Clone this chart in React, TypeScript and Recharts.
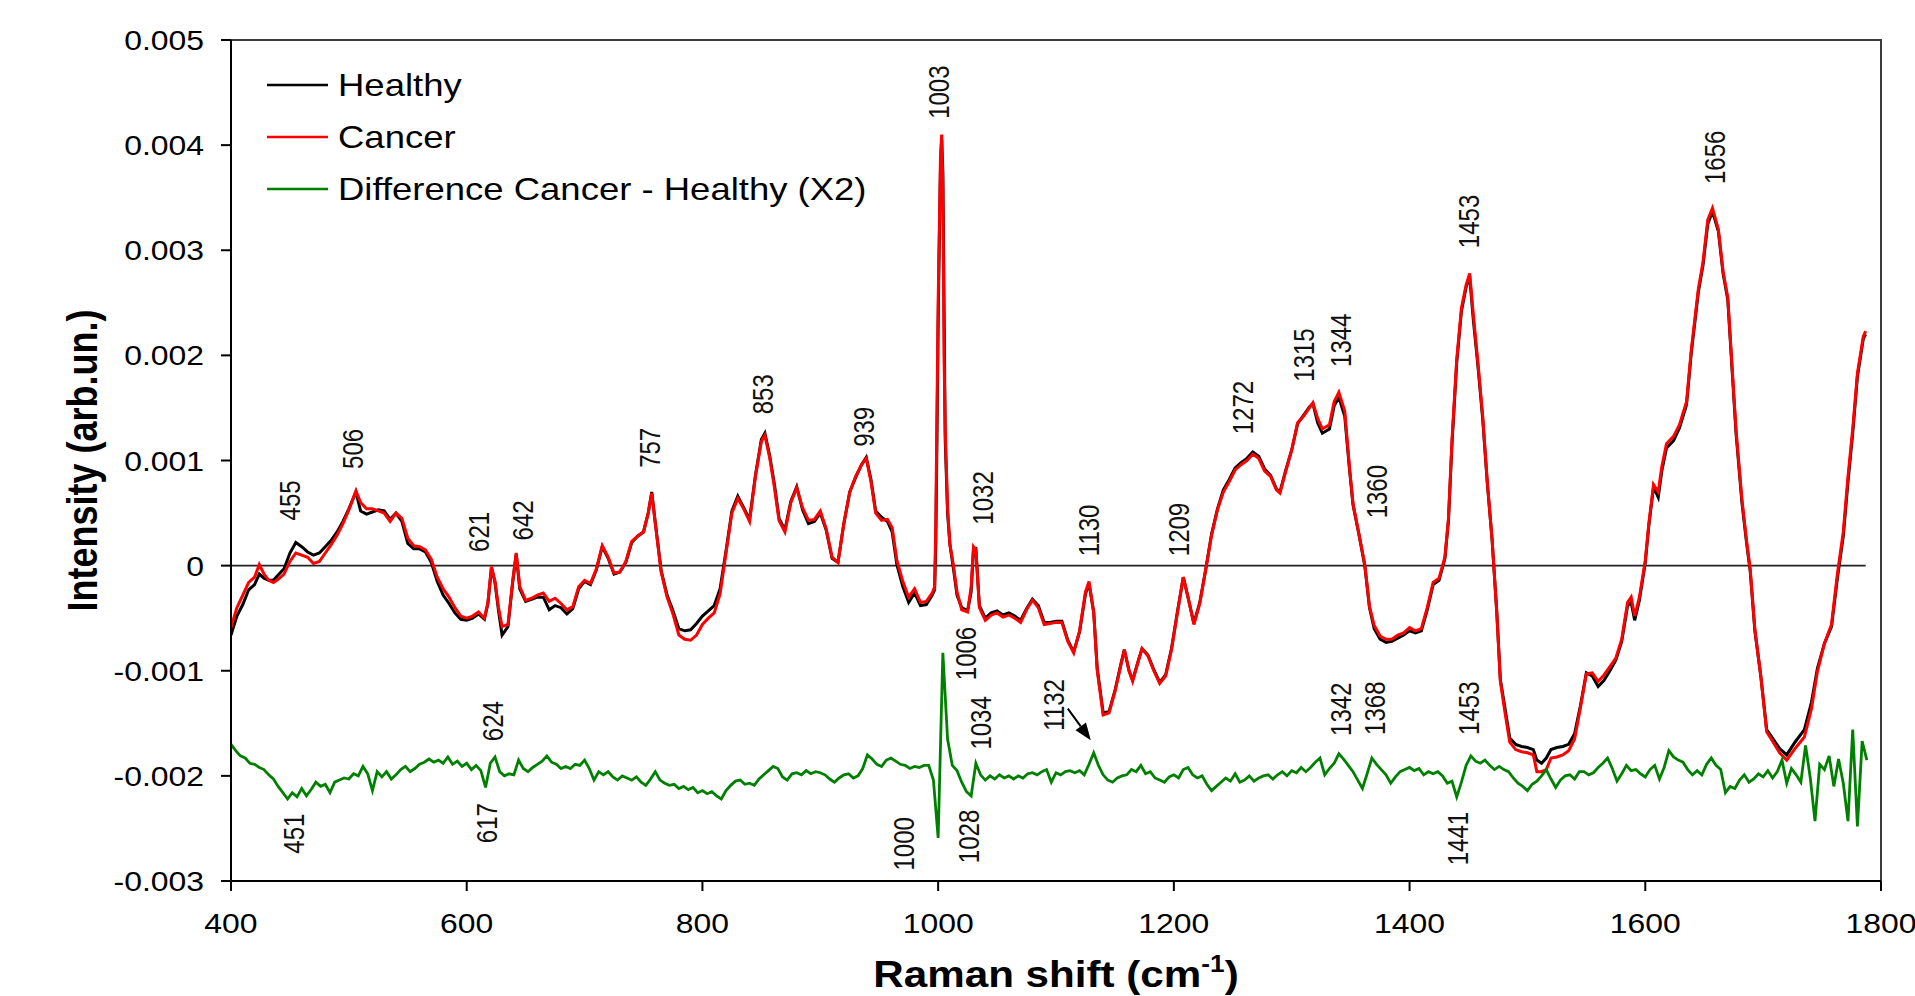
import React from 'react';
import { LineChart, Line, XAxis, YAxis, ReferenceLine, ReferenceDot, ReferenceArea, Legend } from 'recharts';

const FONT = "'Liberation Sans', Arial, Helvetica, sans-serif";
const STRETCH = 1.14;
const LABEL_STRETCH = 1.25;

// Raman shift (cm-1) of the sampled points of the Healthy / Cancer spectra
const cancerShift = [
  400, 405, 410, 415, 420, 424, 428, 432, 436, 440,
  445, 450, 455, 460, 465, 470, 475, 480, 485, 490,
  495, 500, 506, 510, 515, 520, 525, 530, 535, 540,
  545, 550, 555, 560, 565, 570, 575, 580, 585, 590,
  595, 600, 605, 610, 615, 618, 621, 624, 627, 630,
  635, 639, 642, 645, 650, 655, 660, 665, 670, 675,
  680, 685, 690, 695, 700, 705, 710, 715, 720, 725,
  730, 735, 740, 745, 750, 754, 757, 760, 765, 770,
  775, 780, 785, 790, 795, 800, 805, 810, 815, 820,
  825, 830, 835, 840, 845, 850, 853, 857, 861, 865,
  870, 875, 880, 885, 890, 895, 900, 905, 910, 915,
  920, 925, 930, 935, 939, 943, 947, 952, 957, 961,
  965, 970, 975, 980, 985, 990, 995, 997, 998, 999,
  1000, 1001, 1002, 1003, 1004, 1005, 1006, 1008, 1010, 1013,
  1016, 1020, 1025, 1028, 1030, 1032, 1035, 1040, 1045, 1050,
  1055, 1060, 1065, 1070, 1075, 1080, 1085, 1090, 1095, 1100,
  1105, 1110, 1115, 1120, 1125, 1128, 1132, 1135, 1140, 1145,
  1150, 1155, 1158, 1162, 1165, 1170, 1173, 1178, 1183, 1188,
  1193, 1198, 1203, 1208, 1212, 1217, 1222, 1227, 1232, 1237,
  1242, 1247, 1252, 1257, 1262, 1267, 1272, 1277, 1282, 1287,
  1290, 1295, 1300, 1305, 1310, 1315, 1318, 1322, 1326, 1332,
  1336, 1340, 1345, 1349, 1352, 1357, 1362, 1366, 1370, 1375,
  1380, 1385, 1390, 1395, 1400, 1405, 1410, 1415, 1420, 1425,
  1430, 1433, 1436, 1440, 1444, 1448, 1451, 1454, 1458, 1462,
  1466, 1470, 1474, 1477, 1481, 1485, 1490, 1495, 1500, 1505,
  1508, 1512, 1516, 1520, 1525, 1530, 1535, 1540, 1545, 1550,
  1555, 1560, 1565, 1570, 1575, 1580, 1585, 1588, 1591, 1595,
  1600, 1603, 1607, 1611, 1614, 1618, 1624, 1629, 1635, 1639,
  1645, 1649, 1653, 1657, 1662, 1666, 1670, 1674, 1677, 1682,
  1686, 1689, 1693, 1698, 1703, 1708, 1714, 1720, 1727, 1735,
  1741, 1746, 1752, 1758, 1763, 1768, 1772, 1776, 1780, 1785,
  1787,
];

const cancerIntensity = [
  -5.9e-4, -4.0e-4, -2.8e-4, -1.6e-4, -1.1e-4, 0.1e-4, -0.8e-4, -1.4e-4, -1.6e-4, -1.3e-4,
  -0.8e-4, 0.4e-4, 1.2e-4, 1.0e-4, 0.8e-4, 0.2e-4, 0.4e-4, 1.2e-4, 2.0e-4, 2.9e-4,
  4.0e-4, 5.3e-4, 7.1e-4, 6.0e-4, 5.4e-4, 5.4e-4, 5.2e-4, 5.0e-4, 4.2e-4, 5.0e-4,
  4.5e-4, 2.6e-4, 1.9e-4, 1.8e-4, 1.5e-4, 0.6e-4, -1.1e-4, -2.2e-4, -3.0e-4, -4.0e-4,
  -4.8e-4, -5.0e-4, -4.8e-4, -4.4e-4, -5.0e-4, -3.5e-4, -0.1e-4, -1.5e-4, -4.0e-4, -5.8e-4,
  -5.6e-4, -1.5e-4, 1.2e-4, -2.0e-4, -3.3e-4, -3.1e-4, -2.8e-4, -2.6e-4, -3.4e-4, -3.1e-4,
  -3.6e-4, -4.2e-4, -3.9e-4, -2.0e-4, -1.4e-4, -1.7e-4, -0.3e-4, 1.9e-4, 0.8e-4, -0.7e-4,
  -0.6e-4, 0.4e-4, 2.3e-4, 2.8e-4, 3.2e-4, 5.0e-4, 6.9e-4, 4.0e-4, -0.6e-4, -3.0e-4,
  -4.6e-4, -6.6e-4, -7.0e-4, -7.1e-4, -6.6e-4, -5.6e-4, -5.0e-4, -4.5e-4, -2.7e-4, 1.2e-4,
  5.0e-4, 6.4e-4, 5.4e-4, 4.2e-4, 8.5e-4, 11.8e-4, 12.4e-4, 10.3e-4, 7.5e-4, 4.3e-4,
  3.2e-4, 6.0e-4, 7.4e-4, 5.5e-4, 4.3e-4, 4.4e-4, 5.2e-4, 3.5e-4, 0.8e-4, 0.3e-4,
  4.0e-4, 7.0e-4, 8.5e-4, 9.6e-4, 10.2e-4, 8.0e-4, 5.0e-4, 4.3e-4, 4.4e-4, 3.6e-4,
  0.5e-4, -1.5e-4, -3.0e-4, -2.2e-4, -3.5e-4, -3.4e-4, -2.6e-4, -2.0e-4, 4.0e-4, 14.7e-4,
  25.0e-4, 32.0e-4, 39.0e-4, 41.0e-4, 36.0e-4, 20.0e-4, 13.0e-4, 5.5e-4, 2.0e-4, 0.0,
  -2.5e-4, -4.2e-4, -4.4e-4, -2.0e-4, 1.8e-4, 1.5e-4, -4.0e-4, -5.2e-4, -4.7e-4, -4.5e-4,
  -4.9e-4, -4.7e-4, -5.0e-4, -5.4e-4, -4.2e-4, -3.3e-4, -4.0e-4, -5.6e-4, -5.5e-4, -5.4e-4,
  -5.4e-4, -7.2e-4, -8.3e-4, -6.2e-4, -2.5e-4, -1.5e-4, -4.5e-4, -10.0e-4, -14.2e-4, -14.0e-4,
  -12.0e-4, -9.5e-4, -8.0e-4, -10.0e-4, -11.0e-4, -9.0e-4, -7.9e-4, -8.6e-4, -10.0e-4, -11.2e-4,
  -10.5e-4, -8.0e-4, -4.5e-4, -1.1e-4, -3.0e-4, -5.6e-4, -3.6e-4, -0.4e-4, 2.9e-4, 5.3e-4,
  7.0e-4, 8.0e-4, 9.1e-4, 9.6e-4, 10.0e-4, 10.6e-4, 10.2e-4, 9.0e-4, 8.5e-4, 7.2e-4,
  6.9e-4, 9.0e-4, 11.0e-4, 13.6e-4, 14.2e-4, 15.0e-4, 15.5e-4, 14.0e-4, 13.0e-4, 13.4e-4,
  15.6e-4, 16.5e-4, 14.7e-4, 9.4e-4, 5.9e-4, 3.0e-4, 0.1e-4, -3.9e-4, -5.7e-4, -6.7e-4,
  -7.0e-4, -7.0e-4, -6.6e-4, -6.4e-4, -5.9e-4, -6.2e-4, -6.0e-4, -4.0e-4, -1.6e-4, -1.2e-4,
  0.8e-4, 4.5e-4, 12.0e-4, 19.6e-4, 24.5e-4, 26.7e-4, 27.8e-4, 24.0e-4, 19.3e-4, 14.3e-4,
  7.9e-4, 2.5e-4, -4.5e-4, -11.0e-4, -14.0e-4, -16.8e-4, -17.5e-4, -17.7e-4, -17.8e-4, -18.0e-4,
  -19.6e-4, -19.6e-4, -19.4e-4, -18.3e-4, -18.2e-4, -18.0e-4, -17.6e-4, -16.5e-4, -13.5e-4, -10.3e-4,
  -10.2e-4, -11.0e-4, -10.4e-4, -9.6e-4, -8.8e-4, -7.0e-4, -3.5e-4, -3.0e-4, -4.8e-4, -3.0e-4,
  0.5e-4, 4.0e-4, 7.7e-4, 7.0e-4, 9.4e-4, 11.6e-4, 12.3e-4, 13.4e-4, 15.6e-4, 20.5e-4,
  26.3e-4, 28.9e-4, 32.9e-4, 34.0e-4, 32.0e-4, 28.0e-4, 25.5e-4, 18.3e-4, 12.9e-4, 6.3e-4,
  2.3e-4, -0.3e-4, -6.1e-4, -10.5e-4, -15.8e-4, -16.7e-4, -17.8e-4, -18.5e-4, -17.4e-4, -16.3e-4,
  -13.6e-4, -10.1e-4, -7.4e-4, -5.6e-4, -0.8e-4, 3.2e-4, 8.5e-4, 13.0e-4, 18.3e-4, 21.8e-4,
  22.3e-4,
];

const healthyIntensity = [
  -6.6e-4, -4.8e-4, -3.7e-4, -2.3e-4, -1.8e-4, -0.8e-4, -1.2e-4, -1.4e-4, -1.4e-4, -0.9e-4,
  -0.3e-4, 1.2e-4, 2.2e-4, 1.8e-4, 1.3e-4, 1.0e-4, 1.2e-4, 1.8e-4, 2.4e-4, 3.2e-4,
  4.2e-4, 5.4e-4, 7.0e-4, 5.2e-4, 4.9e-4, 5.1e-4, 5.3e-4, 5.2e-4, 4.4e-4, 5.0e-4,
  4.2e-4, 2.1e-4, 1.6e-4, 1.6e-4, 1.3e-4, 0.3e-4, -1.5e-4, -2.8e-4, -3.6e-4, -4.5e-4,
  -5.1e-4, -5.2e-4, -5.0e-4, -4.6e-4, -5.1e-4, -3.6e-4, -0.2e-4, -1.6e-4, -4.3e-4, -6.6e-4,
  -5.8e-4, -1.6e-4, 1.1e-4, -2.2e-4, -3.4e-4, -3.2e-4, -3.0e-4, -3.0e-4, -4.2e-4, -3.8e-4,
  -4.0e-4, -4.6e-4, -4.1e-4, -2.2e-4, -1.5e-4, -1.8e-4, -0.4e-4, 1.8e-4, 0.7e-4, -0.8e-4,
  -0.6e-4, 0.3e-4, 2.2e-4, 2.8e-4, 3.2e-4, 5.0e-4, 7.0e-4, 4.1e-4, -0.5e-4, -2.8e-4,
  -4.3e-4, -6.0e-4, -6.2e-4, -6.1e-4, -5.5e-4, -4.8e-4, -4.3e-4, -3.8e-4, -2.2e-4, 1.4e-4,
  5.2e-4, 6.6e-4, 5.5e-4, 4.4e-4, 8.6e-4, 12.0e-4, 12.6e-4, 10.5e-4, 7.8e-4, 4.5e-4,
  3.4e-4, 6.1e-4, 7.5e-4, 5.3e-4, 4.0e-4, 4.2e-4, 5.0e-4, 3.4e-4, 0.7e-4, 0.3e-4,
  4.0e-4, 7.0e-4, 8.4e-4, 9.6e-4, 10.3e-4, 8.2e-4, 5.2e-4, 4.6e-4, 4.2e-4, 3.2e-4,
  0.1e-4, -2.0e-4, -3.5e-4, -2.6e-4, -3.8e-4, -3.7e-4, -2.8e-4, -2.3e-4, 2.0e-4, 12.0e-4,
  23.0e-4, 31.0e-4, 38.0e-4, 40.5e-4, 37.5e-4, 25.0e-4, 12.0e-4, 5.0e-4, 2.0e-4, -0.3e-4,
  -2.8e-4, -4.0e-4, -4.3e-4, -2.5e-4, 1.5e-4, 1.6e-4, -3.8e-4, -5.0e-4, -4.5e-4, -4.3e-4,
  -4.7e-4, -4.5e-4, -4.8e-4, -5.2e-4, -4.1e-4, -3.2e-4, -3.8e-4, -5.4e-4, -5.4e-4, -5.3e-4,
  -5.3e-4, -7.1e-4, -8.2e-4, -6.3e-4, -2.7e-4, -1.7e-4, -4.4e-4, -9.8e-4, -14.0e-4, -13.9e-4,
  -11.9e-4, -9.4e-4, -8.0e-4, -10.0e-4, -10.9e-4, -9.0e-4, -7.9e-4, -8.5e-4, -9.9e-4, -11.1e-4,
  -10.4e-4, -7.9e-4, -4.4e-4, -1.1e-4, -3.0e-4, -5.5e-4, -3.5e-4, -0.4e-4, 3.0e-4, 5.4e-4,
  7.2e-4, 8.2e-4, 9.3e-4, 9.8e-4, 10.2e-4, 10.8e-4, 10.4e-4, 9.2e-4, 8.6e-4, 7.3e-4,
  7.0e-4, 9.1e-4, 11.0e-4, 13.5e-4, 14.3e-4, 15.1e-4, 15.4e-4, 13.6e-4, 12.6e-4, 13.0e-4,
  15.2e-4, 16.0e-4, 14.2e-4, 9.2e-4, 5.8e-4, 3.0e-4, 0.0, -4.0e-4, -6.0e-4, -7.0e-4,
  -7.3e-4, -7.2e-4, -6.9e-4, -6.6e-4, -6.2e-4, -6.4e-4, -6.2e-4, -4.2e-4, -1.8e-4, -1.4e-4,
  0.7e-4, 4.3e-4, 11.6e-4, 19.3e-4, 24.2e-4, 26.5e-4, 27.5e-4, 23.5e-4, 19.0e-4, 14.0e-4,
  7.8e-4, 2.5e-4, -4.4e-4, -10.8e-4, -13.6e-4, -16.4e-4, -17.0e-4, -17.2e-4, -17.3e-4, -17.5e-4,
  -18.5e-4, -18.8e-4, -18.3e-4, -17.5e-4, -17.3e-4, -17.2e-4, -17.0e-4, -16.0e-4, -13.3e-4, -10.2e-4,
  -10.5e-4, -11.5e-4, -10.9e-4, -10.0e-4, -9.0e-4, -7.2e-4, -3.8e-4, -3.5e-4, -5.2e-4, -3.3e-4,
  0.3e-4, 3.8e-4, 7.5e-4, 6.5e-4, 9.0e-4, 11.2e-4, 11.9e-4, 13.1e-4, 15.3e-4, 20.2e-4,
  26.0e-4, 28.6e-4, 32.5e-4, 33.7e-4, 31.8e-4, 27.8e-4, 25.3e-4, 18.0e-4, 12.6e-4, 6.0e-4,
  2.1e-4, -0.5e-4, -6.2e-4, -10.5e-4, -15.6e-4, -16.4e-4, -17.4e-4, -18.0e-4, -16.8e-4, -15.6e-4,
  -13.0e-4, -9.8e-4, -7.4e-4, -5.8e-4, -1.2e-4, 2.8e-4, 8.0e-4, 12.6e-4, 18.0e-4, 21.6e-4,
  22.0e-4,
];

// Difference Cancer - Healthy (x2, plotted with its offset), sampled every 4 cm-1 from 400 cm-1
const differenceStart = 400;
const differenceStep = 4;
const differenceIntensity = [
  -17.0e-4, -17.6e-4, -18.1e-4, -18.3e-4, -18.8e-4, -18.9e-4, -19.2e-4, -19.4e-4, -19.9e-4, -20.3e-4,
  -21.0e-4, -21.6e-4, -22.2e-4, -21.6e-4, -22.0e-4, -21.2e-4, -21.9e-4, -21.3e-4, -20.6e-4, -21.0e-4,
  -20.8e-4, -21.6e-4, -20.6e-4, -20.4e-4, -20.2e-4, -20.3e-4, -19.8e-4, -20.0e-4, -19.1e-4, -19.8e-4,
  -21.4e-4, -19.6e-4, -20.1e-4, -19.6e-4, -20.3e-4, -19.9e-4, -19.4e-4, -19.1e-4, -19.6e-4, -19.3e-4,
  -18.9e-4, -18.7e-4, -18.4e-4, -18.7e-4, -18.5e-4, -18.8e-4, -18.2e-4, -18.9e-4, -18.6e-4, -19.1e-4,
  -18.8e-4, -19.4e-4, -19.0e-4, -19.5e-4, -21.1e-4, -18.8e-4, -18.2e-4, -19.6e-4, -20.0e-4, -19.8e-4,
  -19.9e-4, -18.5e-4, -19.3e-4, -19.6e-4, -19.2e-4, -18.9e-4, -18.6e-4, -18.1e-4, -18.7e-4, -18.9e-4,
  -19.3e-4, -19.1e-4, -19.3e-4, -18.9e-4, -19.0e-4, -18.5e-4, -19.3e-4, -20.4e-4, -19.6e-4, -19.9e-4,
  -19.6e-4, -20.1e-4, -20.4e-4, -20.0e-4, -20.2e-4, -20.4e-4, -20.1e-4, -20.6e-4, -20.9e-4, -20.3e-4,
  -19.6e-4, -20.4e-4, -20.7e-4, -20.9e-4, -20.8e-4, -21.2e-4, -21.0e-4, -21.3e-4, -21.1e-4, -21.6e-4,
  -21.4e-4, -21.7e-4, -21.5e-4, -21.9e-4, -22.2e-4, -21.4e-4, -20.9e-4, -20.5e-4, -20.4e-4, -20.8e-4,
  -20.7e-4, -20.9e-4, -20.3e-4, -19.9e-4, -19.5e-4, -19.1e-4, -19.3e-4, -20.1e-4, -20.4e-4, -19.8e-4,
  -19.7e-4, -19.9e-4, -19.5e-4, -19.8e-4, -19.6e-4, -19.7e-4, -19.9e-4, -20.3e-4, -20.6e-4, -20.2e-4,
  -19.9e-4, -19.8e-4, -20.2e-4, -20.0e-4, -19.3e-4, -18.0e-4, -18.4e-4, -18.9e-4, -19.1e-4, -18.5e-4,
  -18.3e-4, -18.6e-4, -18.9e-4, -19.0e-4, -19.3e-4, -19.1e-4, -19.2e-4, -19.0e-4, -19.0e-4, -20.4e-4,
  -25.9e-4, -8.3e-4, -16.5e-4, -19.0e-4, -19.5e-4, -20.6e-4, -21.5e-4, -21.9e-4, -18.8e-4, -19.9e-4,
  -20.4e-4, -20.0e-4, -20.3e-4, -19.9e-4, -20.2e-4, -20.0e-4, -20.3e-4, -20.0e-4, -20.2e-4, -19.8e-4,
  -19.7e-4, -19.9e-4, -19.6e-4, -19.4e-4, -20.6e-4, -19.7e-4, -19.9e-4, -19.6e-4, -19.5e-4, -19.7e-4,
  -19.5e-4, -19.9e-4, -18.9e-4, -17.8e-4, -19.0e-4, -19.9e-4, -20.4e-4, -20.6e-4, -20.2e-4, -20.0e-4,
  -19.9e-4, -19.4e-4, -19.6e-4, -19.0e-4, -19.8e-4, -19.6e-4, -20.2e-4, -20.4e-4, -20.6e-4, -20.1e-4,
  -19.9e-4, -20.2e-4, -19.4e-4, -19.2e-4, -19.9e-4, -20.2e-4, -20.0e-4, -20.8e-4, -21.4e-4, -21.0e-4,
  -20.6e-4, -20.2e-4, -20.5e-4, -19.8e-4, -20.6e-4, -20.4e-4, -20.0e-4, -20.5e-4, -20.2e-4, -20.0e-4,
  -19.9e-4, -20.3e-4, -19.9e-4, -19.6e-4, -20.0e-4, -19.5e-4, -19.7e-4, -19.2e-4, -19.6e-4, -19.2e-4,
  -18.7e-4, -18.3e-4, -19.9e-4, -19.3e-4, -18.8e-4, -17.9e-4, -18.4e-4, -19.0e-4, -19.6e-4, -20.4e-4,
  -21.2e-4, -19.8e-4, -18.3e-4, -18.9e-4, -19.4e-4, -19.9e-4, -20.7e-4, -20.1e-4, -19.6e-4, -19.4e-4,
  -19.2e-4, -19.5e-4, -19.3e-4, -19.9e-4, -19.6e-4, -19.8e-4, -19.6e-4, -20.0e-4, -20.7e-4, -20.5e-4,
  -22.0e-4, -20.6e-4, -19.0e-4, -18.1e-4, -18.6e-4, -18.8e-4, -18.5e-4, -19.0e-4, -19.4e-4, -19.1e-4,
  -19.4e-4, -19.6e-4, -20.2e-4, -20.7e-4, -21.0e-4, -21.4e-4, -20.8e-4, -20.5e-4, -20.0e-4, -19.4e-4,
  -20.3e-4, -21.1e-4, -20.4e-4, -20.0e-4, -19.9e-4, -20.3e-4, -19.6e-4, -19.6e-4, -19.9e-4, -19.7e-4,
  -19.2e-4, -18.8e-4, -18.3e-4, -19.3e-4, -20.5e-4, -19.8e-4, -19.0e-4, -19.5e-4, -19.4e-4, -19.8e-4,
  -20.1e-4, -19.4e-4, -19.0e-4, -20.3e-4, -19.2e-4, -17.6e-4, -18.2e-4, -18.5e-4, -18.7e-4, -19.4e-4,
  -19.9e-4, -19.5e-4, -19.9e-4, -18.9e-4, -18.3e-4, -19.0e-4, -19.4e-4, -21.6e-4, -21.0e-4, -21.2e-4,
  -20.4e-4, -19.9e-4, -20.6e-4, -20.3e-4, -19.8e-4, -20.1e-4, -19.5e-4, -20.2e-4, -19.6e-4, -18.5e-4,
  -20.7e-4, -19.3e-4, -19.9e-4, -20.6e-4, -17.1e-4, -20.2e-4, -24.3e-4, -18.9e-4, -19.4e-4, -18.1e-4,
  -21.0e-4, -18.4e-4, -20.7e-4, -24.3e-4, -15.6e-4, -24.8e-4, -16.7e-4, -18.5e-4,
];

const xTicks = [400, 600, 800, 1000, 1200, 1400, 1600, 1800];
const yTicks = [-0.003, -0.002, -0.001, 0, 0.001, 0.002, 0.003, 0.004, 0.005];
const yTickLabels = ['-0.003', '-0.002', '-0.001', '0', '0.001', '0.002', '0.003', '0.004', '0.005'];

const seriesNames = ['Healthy', 'Cancer', 'Difference Cancer - Healthy (X2)'];
const seriesColors = ['#000000', '#ff0000', '#008000'];

// peak annotations: text, Raman shift and intensity where the (vertical) text starts
const peakLabelText = [
  '455', '506', '621', '642', '757', '853', '939', '1003', '1032', '1130', '1209', '1272', '1315', '1344', '1360', '1453', '1656',
  '624', '1006', '1034', '1132', '1342', '1368', '1453',
  '451', '617', '1000', '1028', '1441',
];
const peakLabelShift = [
  450, 503, 610, 647, 755, 851, 937, 1000, 1038, 1128, 1204, 1258, 1310, 1341, 1372, 1450, 1659,
  621.5, 1023, 1036, 1098, 1341, 1370.5, 1450,
  453, 617, 971, 1026, 1441,
];
const peakLabelIntensity = [
  0.00043, 0.00092, 0.00013, 0.00024, 0.00093, 0.00144, 0.00113, 0.00425, 0.00039, 0.00009, 0.00009, 0.00125, 0.00175, 0.00189, 0.00045, 0.00302, 0.00363,
  -0.00167, -0.00109, -0.00175, -0.00157, -0.00162, -0.00161, -0.00161,
  -0.00274, -0.00264, -0.0029, -0.00283, -0.00285,
];

// arrow pointing at the 1132 band of the difference spectrum
const arrowFrom = { shift: 1110, intensity: -0.00136 };
const arrowTo = { shift: 1129.5, intensity: -0.00166 };

const spectrumData = cancerShift.map((shift, i) => ({
  shift,
  healthy: healthyIntensity[i],
  cancer: cancerIntensity[i],
}));
const differenceData = differenceIntensity.map((value, i) => ({
  shift: differenceStart + differenceStep * i,
  difference: value,
}));
const lastShift = cancerShift[cancerShift.length - 1];

function XTick(props: any) {
  const { x, y, payload } = props;
  return (
    <text
      transform={`translate(${x},${y}) scale(${STRETCH},1)`}
      x={0}
      y={0}
      dy={42.5}
      textAnchor="middle"
      fontFamily={FONT}
      fontSize={28}
      fill="#000"
    >
      {payload.value}
    </text>
  );
}

function YTick(props: any) {
  const { x, y, payload } = props;
  const idx = yTicks.indexOf(payload.value);
  const label = idx >= 0 ? yTickLabels[idx] : String(payload.value);
  return (
    <text
      transform={`translate(${x},${y}) scale(${STRETCH},1)`}
      x={0}
      y={0}
      dy={10}
      textAnchor="end"
      fontFamily={FONT}
      fontSize={28}
      fill="#000"
    >
      {label}
    </text>
  );
}

function VerticalLabel({ cx, cy, text }: { cx: number; cy: number; text: string }) {
  return (
    <text
      transform={`translate(${cx},${cy}) rotate(-90) scale(1,${LABEL_STRETCH})`}
      x={0}
      y={0}
      textAnchor="start"
      dominantBaseline="central"
      fontFamily={FONT}
      fontSize={24}
      fill="#111"
    >
      {text}
    </text>
  );
}

function renderArrow(p: any) {
  const { x1, y1, x2, y2 } = p;
  const dx = x2 - x1;
  const dy = y2 - y1;
  const len = Math.hypot(dx, dy) || 1;
  const ux = dx / len;
  const uy = dy / len;
  const head = 17;
  const half = 6.5;
  const bx = x2 - ux * head;
  const by = y2 - uy * head;
  const pts = `${x2},${y2} ${bx - uy * half},${by + ux * half} ${bx + uy * half},${by - ux * half}`;
  return (
    <g>
      <line x1={x1} y1={y1} x2={bx} y2={by} stroke="#000" strokeWidth={2} />
      <polygon points={pts} fill="#000" />
    </g>
  );
}

function renderXTitle(props: any) {
  const vb = props && props.viewBox && props.viewBox.width ? props.viewBox : { x: 231, y: 881, width: 1650, height: 100 };
  const cx = vb.x + vb.width / 2;
  const baseY = vb.y + 106;
  return (
    <text
      transform={`translate(${cx},${baseY}) scale(${STRETCH},1)`}
      x={0}
      y={0}
      textAnchor="middle"
      fontFamily={FONT}
      fontWeight="bold"
      fontSize={37}
      fill="#000"
    >
      Raman shift (cm
      <tspan fontSize={23} dy={-15}>-1</tspan>
      <tspan dy={15}>)</tspan>
    </text>
  );
}

function renderYTitle(props: any) {
  const vb = props && props.viewBox && props.viewBox.height ? props.viewBox : { x: 31, y: 40, width: 200, height: 841 };
  const cx = vb.x + 51;
  const cy = vb.y + vb.height / 2;
  return (
    <text
      transform={`translate(${cx},${cy}) rotate(-90) scale(1,1.2)`}
      x={0}
      y={0}
      textAnchor="middle"
      dominantBaseline="central"
      fontFamily={FONT}
      fontWeight="bold"
      fontSize={36}
      fill="#000"
    >
      Intensity (arb.un.)
    </text>
  );
}

function LegendContent() {
  return (
    <div style={{ position: 'relative', width: 0, height: 0 }}>
      {seriesNames.map((name, i) => (
        <div
          key={name}
          style={{
            position: 'absolute',
            left: 267,
            top: 85 + i * 52 - 20,
            height: 40,
            display: 'flex',
            alignItems: 'center',
            whiteSpace: 'nowrap',
          }}
        >
          <svg width={61} height={4} style={{ display: 'block' }}>
            <line x1={0} y1={2} x2={61} y2={2} stroke={seriesColors[i]} strokeWidth={2.6} />
          </svg>
          <span
            style={{
              marginLeft: 10,
              fontFamily: FONT,
              fontSize: 32,
              lineHeight: '40px',
              color: '#000',
              display: 'inline-block',
              transform: `scaleX(${STRETCH})`,
              transformOrigin: 'left center',
            }}
          >
            {name}
          </span>
        </div>
      ))}
    </div>
  );
}

export default function App() {
  return (
    <div style={{ position: 'absolute', left: 0, top: 0, width: 1915, height: 996, background: '#fff' }}>
      <LineChart width={1915} height={996} margin={{ top: 40, right: 34, bottom: 15, left: 31 }}>
        <ReferenceArea
          x1={400}
          x2={1800}
          y1={-0.003}
          y2={0.005}
          fill="none"
          fillOpacity={0}
          stroke="#3c3c3c"
          strokeWidth={2}
        />
        <XAxis
          type="number"
          dataKey="shift"
          domain={[400, 1800]}
          ticks={xTicks}
          interval={0}
          allowDataOverflow
          height={100}
          tickSize={10}
          tickMargin={0}
          tick={(p: any) => <XTick {...p} />}
          axisLine={{ stroke: '#000', strokeWidth: 2 }}
          tickLine={{ stroke: '#000', strokeWidth: 2 }}
          label={{ content: renderXTitle }}
        />
        <YAxis
          type="number"
          domain={[-0.003, 0.005]}
          ticks={yTicks}
          interval={0}
          allowDataOverflow
          width={200}
          tickSize={10}
          tickMargin={17}
          tick={(p: any) => <YTick {...p} />}
          axisLine={{ stroke: '#000', strokeWidth: 2 }}
          tickLine={{ stroke: '#000', strokeWidth: 2 }}
          label={{ content: renderYTitle }}
        />
        <ReferenceLine
          segment={[
            { x: 400, y: 0 },
            { x: lastShift, y: 0 },
          ]}
          stroke="#222"
          strokeWidth={1.6}
        />
        <Line
          data={spectrumData}
          dataKey="healthy"
          name={seriesNames[0]}
          type="linear"
          stroke={seriesColors[0]}
          strokeWidth={3}
          dot={false}
          activeDot={false}
          isAnimationActive={false}
        />
        <Line
          data={spectrumData}
          dataKey="cancer"
          name={seriesNames[1]}
          type="linear"
          stroke={seriesColors[1]}
          strokeWidth={3}
          dot={false}
          activeDot={false}
          isAnimationActive={false}
        />
        <Line
          data={differenceData}
          dataKey="difference"
          name={seriesNames[2]}
          type="linear"
          stroke={seriesColors[2]}
          strokeWidth={2.8}
          dot={false}
          activeDot={false}
          isAnimationActive={false}
        />
        {peakLabelText.map((t, i) => (
          <ReferenceDot
            key={`peak-${i}`}
            x={peakLabelShift[i]}
            y={peakLabelIntensity[i]}
            r={1}
            ifOverflow="visible"
            shape={(p: any) => <VerticalLabel cx={p.cx} cy={p.cy} text={t} />}
          />
        ))}
        <ReferenceLine
          segment={[
            { x: arrowFrom.shift, y: arrowFrom.intensity },
            { x: arrowTo.shift, y: arrowTo.intensity },
          ]}
          stroke="#000"
          shape={renderArrow}
        />
        <Legend
          layout="horizontal"
          verticalAlign="middle"
          align="left"
          wrapperStyle={{ left: 0, top: 0, width: 1, height: 1 }}
          content={() => <LegendContent />}
        />
      </LineChart>
    </div>
  );
}
